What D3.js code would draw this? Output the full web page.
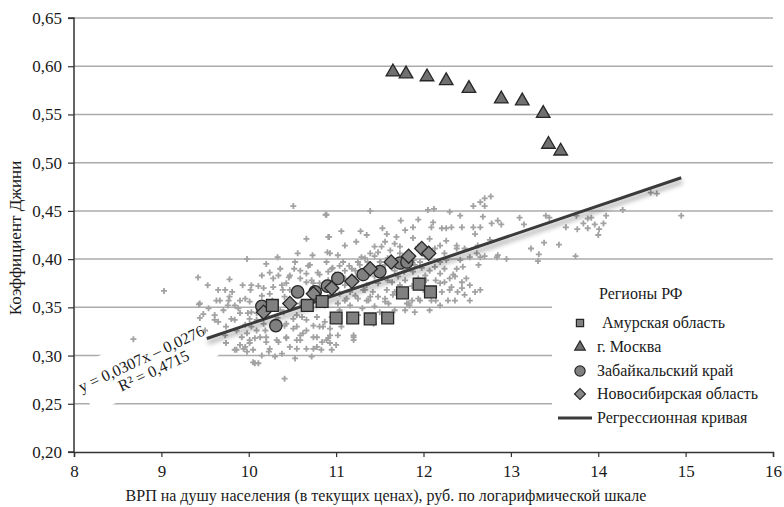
<!DOCTYPE html>
<html>
<head>
<meta charset="utf-8">
<script src="https://cdn.jsdelivr.net/npm/d3@7"></script>
</head>
<body style="margin:0; background:#fff">
<svg id="chart" width="784" height="507"></svg>
<script>
// Axis ticks
var xTicks = [8, 9, 10, 11, 12, 13, 14, 15, 16];
var yTicks = [0.20, 0.25, 0.30, 0.35, 0.40, 0.45, 0.50, 0.55, 0.60, 0.65];

// All regions (grey crosses): [log GRP per capita, Gini]
var allRegions = [
  [10.51,.455],[10.88,.446],[10.66,.421],[10.91,.423],[10.56,.406],[10.73,.404],[10.90,.407],[10.33,.402],[9.98,.400],[10.20,.395],
  [10.52,.390],[10.68,.393],[10.66,.385],[10.81,.384],[10.34,.383],[10.28,.380],[10.46,.381],[9.42,.381],[9.78,.379],[9.93,.373],
  [10.03,.373],[10.11,.372],[10.17,.370],[10.02,.368],[9.73,.368],[9.03,.367],[10.24,.364],[10.39,.368],[10.66,.376],[10.81,.375],
  [10.91,.387],[9.43,.353],[9.63,.357],[9.67,.357],[9.77,.357],[9.90,.357],[10.01,.356],[9.48,.343],[9.61,.342],[9.65,.335],
  [9.80,.338],[9.90,.344],[10.03,.345],[9.74,.330],[9.86,.326],[9.98,.323],[10.07,.318],[9.74,.313],[9.86,.306],[9.94,.307],
  [10.01,.313],[9.98,.304],[10.07,.292],[10.11,.292],[10.23,.304],[10.38,.302],[10.41,.276],[10.55,.307],[10.59,.316],[10.74,.307],
  [10.83,.306],[10.89,.316],[10.20,.319],[10.32,.316],[10.43,.319],[10.66,.326],[10.78,.319],[10.09,.326],[10.17,.333],[10.43,.333],
  [10.55,.330],[10.74,.331],[10.85,.330],[10.55,.342],[10.40,.345],[10.01,.338],[9.71,.347],[9.54,.349],[9.84,.352],[8.68,.317],
  [9.44,.354],[9.44,.339],[11.39,.450],[10.89,.446],[12.05,.451],[12.12,.452],[12.57,.455],[12.65,.459],[12.70,.463],[12.77,.465],
  [12.70,.455],[12.30,.449],[12.42,.445],[11.74,.440],[11.94,.441],[12.11,.438],[12.68,.444],[12.85,.440],[12.78,.437],[12.89,.436],
  [11.06,.429],[11.28,.429],[11.53,.432],[11.79,.430],[11.88,.433],[12.09,.433],[12.21,.432],[12.32,.433],[12.44,.433],[12.65,.433],
  [10.92,.423],[11.35,.425],[11.58,.426],[11.69,.423],[11.88,.422],[12.07,.421],[12.26,.419],[11.23,.418],[11.10,.414],[11.44,.413],
  [11.56,.418],[11.73,.413],[12.19,.414],[12.38,.414],[12.47,.411],[12.61,.406],[12.70,.403],[12.85,.404],[12.95,.400],[12.63,.394],
  [12.45,.392],[12.49,.380],[12.34,.384],[10.93,.406],[11.02,.404],[11.29,.402],[11.25,.397],[11.39,.406],[11.48,.407],[11.62,.409],
  [10.89,.397],[11.08,.397],[11.50,.397],[10.95,.390],[11.10,.388],[11.77,.390],[11.90,.394],[12.13,.392],[12.24,.390],[14.60,.469],
  [14.67,.468],[14.28,.451],[14.95,.445],[13.10,.443],[13.40,.445],[13.44,.443],[13.15,.436],[13.75,.445],[13.88,.442],[13.92,.443],
  [14.09,.445],[13.63,.433],[13.83,.437],[13.76,.431],[13.88,.432],[13.96,.436],[14.06,.437],[14.01,.431],[14.00,.425],[13.23,.411],
  [13.32,.405],[13.38,.417],[13.55,.415],[13.31,.398],[13.74,.403],[12.26,.432],[12.57,.433],[12.59,.426],[12.76,.420],[11.52,.413],
  [11.67,.416],[11.94,.413],[11.73,.406],[12.13,.411],[12.24,.406],[12.38,.411],[12.53,.402],[12.65,.402],[12.84,.402],[11.10,.357],
  [11.02,.354],[11.25,.359],[11.37,.357],[11.48,.361],[11.60,.354],[11.83,.354],[11.94,.359],[12.09,.357],[10.95,.340],[10.93,.328],
  [11.02,.321],[11.20,.321],[11.20,.316],[10.95,.306],[10.91,.318],[11.43,.333],[12.32,.371],[12.53,.373],[12.44,.376],[10.87,.335],
  [11.06,.330],[12.26,.399],[12.42,.399],[12.38,.390],[12.19,.385],[12.30,.380],[12.19,.375],[11.88,.387],[12.03,.378],[11.84,.352],
  [10.28,.371],[10.38,.373],[10.43,.375],[10.47,.368],[10.41,.361],[10.55,.363],[10.59,.354],[10.74,.375],[10.93,.363],[11.04,.364],
  [11.12,.359],[11.31,.368],[11.42,.366],[11.58,.368],[11.65,.363],[11.81,.354],[11.35,.357],[11.56,.356],[11.73,.373],[9.78,.361],
  [9.96,.359],[9.88,.349],[9.99,.344],[10.09,.344],[10.09,.337],[10.20,.342],[10.51,.338],[10.61,.340],[10.66,.337],[10.78,.340],
  [10.81,.330],[10.51,.328],[10.62,.323],[10.74,.319],[10.43,.318],[10.55,.316],[10.93,.321],[10.03,.330],[9.92,.319],[10.01,.316],
  [10.13,.319],[10.20,.314],[10.34,.314],[9.84,.306],[9.96,.309],[10.05,.306],[10.24,.307],[10.47,.309],[10.66,.307],[10.78,.309],
  [10.93,.313],[11.20,.319],[10.05,.293],[11.00,.311],[11.04,.393],[11.18,.390],[11.27,.394],[11.41,.390],[11.56,.394],[11.67,.388],
  [11.84,.390],[11.96,.397],[12.02,.383],[10.59,.388],[10.70,.394],[10.79,.386],[11.10,.380],[11.22,.376],[11.35,.373],[11.48,.375],
  [11.64,.376],[11.79,.378],[11.94,.380],[12.07,.388],[12.19,.397],[10.59,.380],[10.72,.378],[10.81,.370],[10.99,.368],[11.16,.366],
  [11.30,.380],[11.44,.382],[11.71,.382],[11.87,.372],[12.00,.368],[12.10,.368],[12.21,.366],[11.16,.352],[11.30,.349],[11.44,.351],
  [11.67,.347],[11.79,.347],[11.90,.345],[12.07,.347],[12.19,.352],[12.36,.357],[12.47,.363],[12.59,.366],[12.65,.368],[11.22,.388],
  [11.33,.401],[11.44,.403],[11.59,.401],[11.73,.397],[11.82,.401],[12.02,.403],[10.99,.384],[10.47,.383],[10.53,.397],[10.36,.390],
  [10.24,.386],[10.15,.383],[11.67,.366],[11.56,.359],[11.39,.361],[11.10,.373],[11.96,.357],[12.07,.363],[12.30,.368],[12.44,.370],
  [10.91,.378],[10.96,.391],[11.15,.393],[11.23,.382],[11.36,.397],[11.51,.397],[11.64,.391],[11.78,.387],[11.89,.399],[11.98,.391],
  [11.59,.378],[11.33,.368],[11.22,.362],[11.73,.363],[11.87,.357],[12.24,.376],[12.36,.382],[12.39,.366],[12.53,.357],[12.28,.357],
  [12.14,.378],[12.14,.357],[10.87,.352],[11.04,.347],[11.25,.342],[11.50,.345],[9.81,.366],[10.15,.362],[10.27,.357],[10.36,.347],
  [10.49,.352],[10.70,.351],[9.84,.337],[9.96,.332],[10.30,.328],[10.41,.331],[10.59,.321],[10.84,.314],[10.19,.326],[10.33,.339],
  [9.73,.321],[9.90,.311],[9.76,.352],[9.65,.368],[9.53,.373],[9.61,.337],[9.50,.326],[10.15,.300],[10.30,.299],[10.53,.297],
  [10.72,.299],[12.62,.414]
];

// Highlighted regions
var amur = [[10.27,.352],[10.67,.352],[10.84,.356],[11.00,.339],[11.19,.339],[11.39,.338],[11.59,.339],[11.76,.365],[11.95,.374],[12.08,.366]];
var moscow = [[11.65,.594],[11.80,.592],[12.04,.589],[12.26,.585],[12.52,.577],[12.89,.566],[13.13,.564],[13.37,.551],[13.43,.519],[13.57,.512]];
var zabaikal = [[10.15,.351],[10.31,.331],[10.56,.366],[10.76,.366],[10.90,.372],[11.02,.380],[11.31,.384],[11.50,.387],[11.73,.396],[11.81,.397]];
var novosib = [[10.17,.345],[10.47,.354],[10.74,.364],[10.95,.370],[11.18,.377],[11.39,.390],[11.63,.397],[11.83,.403],[11.98,.411],[12.06,.406]];

// Regression line as drawn (slope, intercept) and its x range
var regSlope = 0.0307, regIntercept = 0.0254;
var regRange = [9.52, 14.95];
var eqLines = ["y = 0,0307x – 0,0276", "R² = 0,4715"];

var legendTitle = "Регионы РФ";
var legendNames = ["Амурская область", "г. Москва", "Забайкальский край", "Новосибирская область", "Регрессионная кривая"];

var FONT = "'Liberation Serif'";
var svg = d3.select("#chart");

var x = d3.scaleLinear().domain([8, 16]).range([74, 773]);
var y = d3.scaleLinear().domain([0.20, 0.65]).range([452, 18]);
var fmt = function(v) { return d3.format(".2f")(v).replace(".", ","); };

// small helper so every label gets the same serif face
function label(sel, size) {
  return sel.attr("fill", "#1a1a1a").style("font-family", FONT).style("font-size", size + "px");
}

var defs = svg.append("defs");
var f = defs.append("filter").attr("id", "shadow").attr("x", "-10%").attr("y", "-50%").attr("width", "120%").attr("height", "200%");
f.append("feGaussianBlur").attr("in", "SourceAlpha").attr("stdDeviation", 2.4).attr("result", "b");
f.append("feOffset").attr("in", "b").attr("dx", 1).attr("dy", 4).attr("result", "o");
f.append("feComponentTransfer").attr("in", "o").attr("result", "s")
  .append("feFuncA").attr("type", "linear").attr("slope", 0.4);
var m = f.append("feMerge");
m.append("feMergeNode").attr("in", "s");
m.append("feMergeNode").attr("in", "SourceGraphic");

// gridlines
svg.append("g").selectAll("line").data(yTicks.slice(1)).enter().append("line")
  .attr("x1", 74).attr("x2", 773)
  .attr("y1", function(d) { return y(d); }).attr("y2", function(d) { return y(d); })
  .attr("stroke", "#ababab").attr("stroke-width", 1.5);

// white box behind the equation
var eqG = svg.append("g").attr("transform", "translate(142,360) rotate(-25)");
eqG.append("rect").attr("x", -66).attr("y", -22).attr("width", 138).attr("height", 50).attr("fill", "#fff");

// legend box
svg.append("rect").attr("x", 552).attr("y", 264).attr("width", 224).attr("height", 185).attr("fill", "#fff");

// grey crosses
svg.append("g").selectAll("path").data(allRegions).enter().append("path")
  .attr("transform", function(d) { return "translate(" + x(d[0]) + "," + y(d[1]) + ")"; })
  .attr("d", "M-3,0H3M0,-3V3")
  .attr("stroke", "#a2a2a2").attr("stroke-width", 1.8);

// regression line
svg.append("line")
  .attr("x1", x(regRange[0])).attr("y1", y(regSlope * regRange[0] + regIntercept))
  .attr("x2", x(regRange[1])).attr("y2", y(regSlope * regRange[1] + regIntercept))
  .attr("stroke", "#3a3a3a").attr("stroke-width", 3).attr("filter", "url(#shadow)");

var markerStroke = "#262626";
function drawMarkers(data, type, size, fill, rot) {
  svg.append("g").selectAll("path").data(data).enter().append("path")
    .attr("transform", function(d) { return "translate(" + x(d[0]) + "," + y(d[1]) + ")" + (rot ? " rotate(45)" : ""); })
    .attr("d", d3.symbol(type, size))
    .attr("fill", fill).attr("stroke", markerStroke).attr("stroke-width", 1.3);
}
drawMarkers(zabaikal, d3.symbolCircle, 120, "#808080");
drawMarkers(novosib, d3.symbolSquare, 100, "#868686", true);
drawMarkers(amur, d3.symbolSquare, 140, "#808080");
drawMarkers(moscow, d3.symbolTriangle, 80, "#707070");

// equation text
label(eqG.selectAll("text").data(eqLines).enter().append("text"), 16)
  .attr("x", function(d, i) { return i ? 6 : 0; })
  .attr("y", function(d, i) { return 4 + i * 16; })
  .attr("text-anchor", "middle")
  .text(function(d) { return d; });

// axes
var yAxis = svg.append("g").attr("transform", "translate(74,0)")
  .call(d3.axisLeft(y).tickValues(yTicks).tickFormat(fmt).tickSize(6).tickPadding(6));
var xAxis = svg.append("g").attr("transform", "translate(0,452)")
  .call(d3.axisBottom(x).tickValues(xTicks).tickFormat(d3.format("d")).tickSize(5).tickPadding(8));
[yAxis, xAxis].forEach(function(a) {
  a.attr("font-family", FONT).attr("font-size", 17);
  a.select(".domain").attr("stroke", "#333").attr("stroke-width", 1.5);
  a.selectAll(".tick line").attr("stroke", "#333").attr("stroke-width", 1.2);
  label(a.selectAll(".tick text"), 17);
});
yAxis.select(".domain").attr("d", "M-6,18H0V452H-6").attr("stroke-width", 1.5);

// axis titles
label(svg.append("text"), 16).attr("x", 386).attr("y", 501).attr("text-anchor", "middle")
  .text("ВРП на душу населения (в текущих ценах), руб. по логарифмической шкале");
label(svg.append("text"), 17).attr("transform", "translate(21,238) rotate(-90)").attr("text-anchor", "middle")
  .text("Коэффициент Джини");

// legend
var lg = svg.append("g");
label(lg.append("text"), 16).attr("x", 599).attr("y", 299).text(legendTitle);
var legendY = [323, 347, 371, 394, 418];
var legendSym = [
  { type: d3.symbolSquare, size: 52, fill: "#808080", rot: false },
  { type: d3.symbolTriangle, size: 48, fill: "#707070", rot: false },
  { type: d3.symbolCircle, size: 82, fill: "#808080", rot: false },
  { type: d3.symbolSquare, size: 60, fill: "#868686", rot: true }
];
legendSym.forEach(function(s, i) {
  lg.append("path")
    .attr("transform", "translate(580," + legendY[i] + ")" + (s.rot ? " rotate(45)" : ""))
    .attr("d", d3.symbol(s.type, s.size))
    .attr("fill", s.fill).attr("stroke", markerStroke).attr("stroke-width", 1.2);
});
lg.append("line").attr("x1", 558).attr("x2", 592).attr("y1", legendY[4]).attr("y2", legendY[4])
  .attr("stroke", "#3a3a3a").attr("stroke-width", 3);
label(lg.selectAll("text.item").data(legendNames).enter().append("text").attr("class", "item"), 16)
  .attr("x", function(d, i) { return i === 0 ? 602 : 597; })
  .attr("y", function(d, i) { return legendY[i] + 5; })
  .text(function(d) { return d; });
</script>
</body>
</html>
